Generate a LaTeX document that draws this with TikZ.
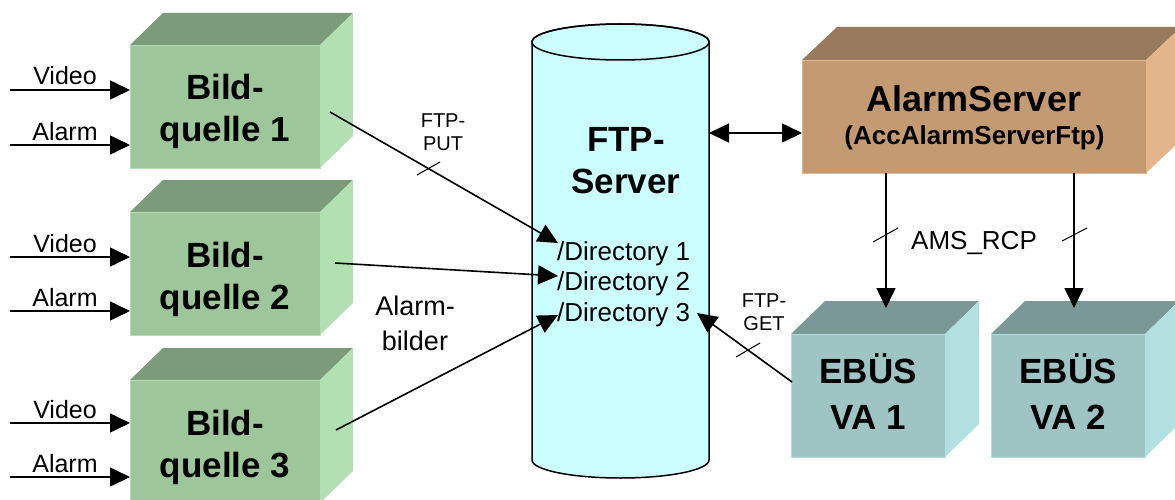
\documentclass[tikz,border=0pt]{standalone}
\usepackage{fontspec}
\setmainfont{Liberation Sans}
\usetikzlibrary{arrows.meta}
\definecolor{gfront}{HTML}{9DC69B}
\definecolor{gtop}{HTML}{7B9B7B}
\definecolor{gside}{HTML}{B2E0B2}
\definecolor{bfront}{HTML}{C49A73}
\definecolor{btop}{HTML}{9A7A5C}
\definecolor{bside}{HTML}{E2B68A}
\definecolor{tfront}{HTML}{9EC4C4}
\definecolor{ttop}{HTML}{7A9898}
\definecolor{tside}{HTML}{B2E0E0}
\definecolor{cyl}{HTML}{CCFFFF}
% name-free cube: x1 y1 x2 y2 dx dy colour-prefix
\newcommand\cubebox[7]{%
  \fill[#7top] (#1,#2) -- (#1+#5,#2-#6) -- (#3+#5,#2-#6) -- (#3,#2) -- cycle;
  \fill[#7side] (#3,#2) -- (#3+#5,#2-#6) -- (#3+#5,#4-#6) -- (#3,#4) -- cycle;
  \filldraw[fill=#7front, draw=#7side, line width=0.8pt] (#1,#2) rectangle (#3,#4);
}
\begin{document}
\begin{tikzpicture}[x=1pt,y=-1pt,
  conn/.style={line width=1.6pt, -{Triangle[length=20pt,width=19pt]}},
  biconn/.style={line width=1.6pt, {Triangle[length=20pt,width=19pt]}-{Triangle[length=20pt,width=19pt]}},
  tick/.style={line width=1pt},
  boxtext/.style={font=\bfseries\fontsize{35}{42}\selectfont, align=center, inner sep=0pt, anchor=base},
  lbl/.style={font=\fontsize{25}{30}\selectfont, inner sep=0pt, anchor=base},
  small/.style={font=\fontsize{20}{23}\selectfont, inner sep=0pt, anchor=base, align=center},
]
\useasboundingbox (0,0) rectangle (1175,500);

% ---- image sources ----
\cubebox{130}{45}{320}{168}{33}{32}{g}
\cubebox{130}{212}{320}{335}{33}{32}{g}
\cubebox{130}{380}{320}{503}{33}{32}{g}
% multi-line nodes: base anchor = baseline of the last line
\node[boxtext] (b1) at (225,142) {Bild-\\quelle 1};
\node[boxtext] (b2) at (225,309) {Bild-\\quelle 2};
\node[boxtext] (b3) at (225,477) {Bild-\\quelle 3};

\foreach \n/\yv/\ya in {1/90/145, 2/257/311, 3/423/477}{
  \coordinate (v\n s) at (10,\yv);
  \coordinate (v\n e) at (130,\yv);
  \coordinate (a\n s) at (10,\ya);
  \coordinate (a\n e) at (130,\ya);
  \draw[conn] (v\n s) -- (v\n e);
  \draw[conn] (a\n s) -- (a\n e);
  \node[lbl] (vl\n) at (65,\yv-5) {Video};
  \node[lbl] (al\n) at (65,\ya-5) {Alarm};
}

% ---- FTP server cylinder ----
\filldraw[fill=cyl, line width=1.5pt] (532,42) -- (532,460)
  arc[start angle=180, end angle=360, x radius=88.5pt, y radius=18pt]
  -- (709,42)
  arc[start angle=0, end angle=180, x radius=88.5pt, y radius=18pt] -- cycle;
\draw[line width=1.5pt] (620.5,42) ellipse [x radius=88.5pt, y radius=18pt];
\node[boxtext, font=\bfseries\fontsize{35}{41}\selectfont] (ftp) at (626,193) {FTP-\\Server};
\node[font=\fontsize{26}{30.5}\selectfont, align=left, inner sep=0pt, anchor=base west] (dirs) at (557,321)
  {/Directory 1\\/Directory 2\\/Directory 3};

% ---- AlarmServer ----
\cubebox{802}{60}{1146}{173}{35}{33}{b}
\node[font=\bfseries\fontsize{36}{40}\selectfont, inner sep=0pt, anchor=base] (as) at (974,112) {AlarmServer};
\node[font=\bfseries\fontsize{26}{30}\selectfont, inner sep=0pt, anchor=base] (asf) at (974.5,145) {(AccAlarmServerFtp)};

% ---- EBUES ----
\cubebox{791}{334}{945}{457}{34}{33}{t}
\cubebox{991}{334}{1145}{457}{34}{33}{t}
\node[boxtext, font=\bfseries\fontsize{35}{46}\selectfont] (e1) at (868,429) {EBÜS\\VA 1};
\node[boxtext, font=\bfseries\fontsize{35}{46}\selectfont] (e2) at (1068,429) {EBÜS\\VA 2};

% ---- connectors ----
\coordinate (b1o) at (330,112);
\coordinate (b2o) at (335,263);
\coordinate (b3o) at (336,430);
\coordinate (d1) at (558,243);
\coordinate (d2) at (558,276);
\coordinate (d3) at (558,315);
\coordinate (d3r) at (697,313);
\coordinate (e1o) at (792,382);
\coordinate (cylR) at (709,133);
\coordinate (asL) at (802,133);
\coordinate (as1) at (886,173);
\coordinate (as2) at (1074,173);
\coordinate (e1t) at (886,308);
\coordinate (e2t) at (1074,308);

\draw[conn] (b1o) -- (d1);
\draw[conn] (b2o) -- (d2);
\draw[conn] (b3o) -- (d3);
\draw[conn] (e1o) -- (d3r);
\draw[biconn] (cylR) -- (asL);
\draw[conn] (as1) -- (e1t);
\draw[conn] (as2) -- (e2t);

% tick marks
\draw[tick] (417,175) -- (440,162);
\draw[tick] (736,357) -- (760,343);
\draw[tick] (873,242) -- (898,228);
\draw[tick] (1062,241) -- (1087,228);

% labels
\node[small] (put) at (443,150) {FTP-\\PUT};
\node[small] (get) at (764,330) {FTP-\\GET};
\node[font=\fontsize{27}{35}\selectfont, align=center, inner sep=0pt, anchor=base] (ab) at (415,350) {Alarm-\\bilder};
\node[font=\fontsize{26}{30}\selectfont, inner sep=0pt, anchor=base] (ams) at (974,249) {AMS\_RCP};
\end{tikzpicture}
\end{document}
